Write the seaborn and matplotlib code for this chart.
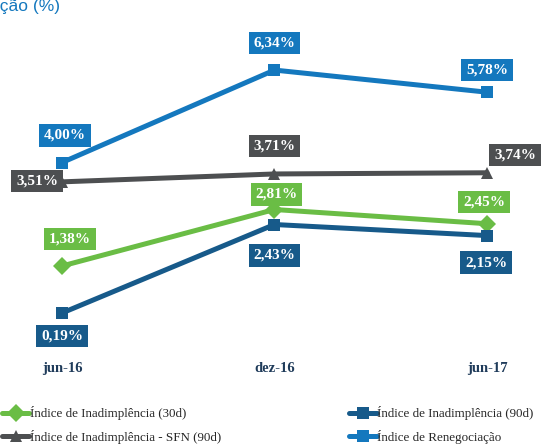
import numpy as np
import pandas as pd
import matplotlib
matplotlib.use("Agg")
import matplotlib.pyplot as plt
import seaborn as sns

sns.set_style("white")
plt.rcParams["font.family"] = ["Liberation Serif", "DejaVu Serif"]

# data
periodos = ["jun-16", "dez-16", "jun-17"]
inad_30d = [1.38, 2.81, 2.45]
inad_90d = [0.19, 2.43, 2.15]
inad_sfn = [3.51, 3.71, 3.74]
renegoc = [4.00, 6.34, 5.78]

series = ["Índice de Inadimplência (30d)", "Índice de Inadimplência - SFN (90d)",
          "Índice de Inadimplência (90d)", "Índice de Renegociação"]
valores = [inad_30d, inad_sfn, inad_90d, renegoc]
cores = ["#6ABD45", "#4D4F51", "#175A8A", "#1478BE"]
marcadores = ["D", "^", "s", "s"]

df = pd.DataFrame({
    "periodo": periodos * len(series),
    "valor": np.concatenate(valores),
    "serie": np.repeat(series, len(periodos)),
})

fig = plt.figure(figsize=(5.43, 4.48), dpi=100)
ax = fig.add_axes([0, 1 - 340 / 448, 1, 320 / 448])

sns.lineplot(data=df, x="periodo", y="valor", hue="serie", style="serie",
             hue_order=series, style_order=series,
             palette=dict(zip(series, cores)), markers=dict(zip(series, marcadores)),
             dashes=False, linewidth=3.6, markersize=9, markeredgewidth=0, ax=ax)

# label offsets in pixels (dx, dy) per series / point
offs = {
    series[0]: [(8, 27), (2, 15), (-3, 22)],
    series[1]: [(-25, 1), (0, 28), (28, 18)],
    series[2]: [(0, -23), (0, -31), (-1, -27)],
    series[3]: [(3, 27), (0, 27), (0, 22)],
}
for s, vals, c in zip(series, valores, cores):
    for i, v in enumerate(vals):
        ax.annotate(f"{v:.2f}%".replace(".", ","), (i, v), xytext=offs[s][i],
                    textcoords="offset pixels", ha="center", va="center",
                    color="white", fontsize=11, fontweight="bold",
                    bbox=dict(boxstyle="square,pad=0.3", fc=c, ec="none"))

ax.set_xlim(-62 / 212.5, (543 - 62) / 212.5)
ax.set_ylim(-19.5 / 39.5, 300.5 / 39.5)
ax.set_xlabel("")
ax.set_ylabel("")
ax.set_yticks([])
ax.tick_params(axis="x", length=0, pad=15.8, labelsize=10.5, labelcolor="#1F3B5A")
for lab in ax.get_xticklabels():
    lab.set_fontweight("bold")
sns.despine(ax=ax, left=True, bottom=True)

handles, labels = ax.get_legend_handles_labels()
ax.get_legend().remove()
fig.legend(handles, labels, ncol=2, loc="center left", bbox_to_anchor=(-0.018, 1 - 425 / 448),
           frameon=False, fontsize=9.4, handlelength=2.1, handletextpad=0.05,
           columnspacing=9.8, labelspacing=0.7)

fig.text(60 / 543, 1 - 5 / 448, "Índice de Renegociação (%)", ha="right", va="center",
         color="#1478BE", fontsize=12.5, family="Liberation Sans")

fig.savefig("out.png", dpi=100)
